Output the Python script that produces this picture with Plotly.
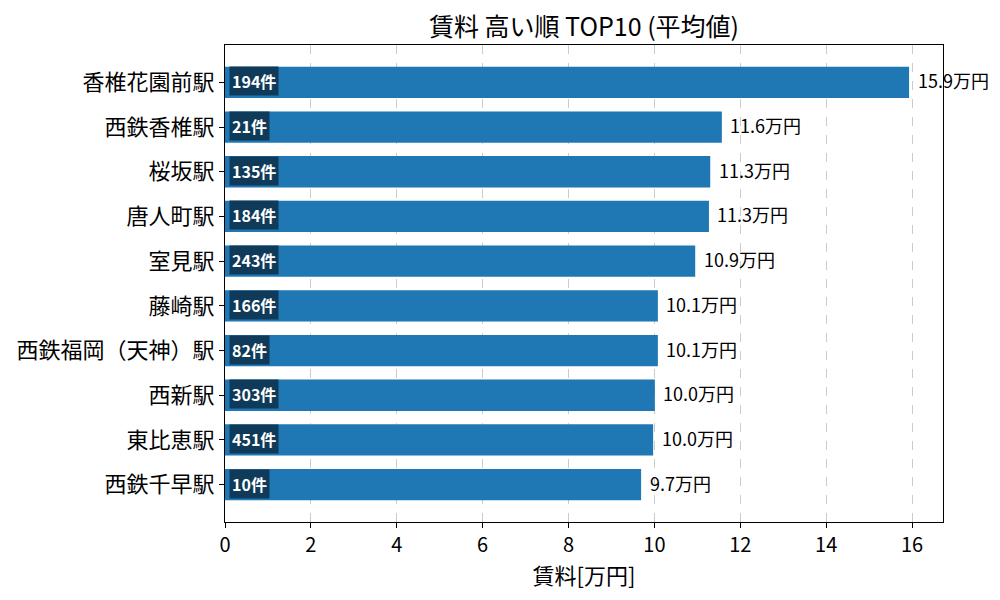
import plotly.graph_objects as go

# data
stations = ['香椎花園前駅', '西鉄香椎駅', '桜坂駅', '唐人町駅', '室見駅',
            '藤崎駅', '西鉄福岡（天神）駅', '西新駅', '東比恵駅', '西鉄千早駅']
rent = [15.93, 11.57, 11.30, 11.27, 10.95, 10.08, 10.08, 10.01, 9.97, 9.69]
counts = [194, 21, 135, 184, 243, 166, 82, 303, 451, 10]
x_ticks = [0, 2, 4, 6, 8, 10, 12, 14, 16]

FONT = 'Noto Sans CJK JP'
BAR = '#1f77b4'

fig = go.Figure()
fig.add_trace(go.Bar(
    x=rent, y=stations, orientation='h',
    width=0.7, marker=dict(color=BAR, line=dict(width=0)),
    showlegend=False, hoverinfo='x+y'
))

# value labels to the right of each bar
for s, v in zip(stations, rent):
    fig.add_annotation(x=v + 0.15, y=s, text=f'{v:.1f}万円', showarrow=False,
                       xanchor='left', yanchor='middle', yshift=2,
                       font=dict(family=FONT, size=18, color='black'))

# count badges inside each bar
for s, c in zip(stations, counts):
    fig.add_annotation(x=0.09, y=s, text=f'<b>{c}件</b>', showarrow=False,
                       xanchor='left', yanchor='middle', yshift=1,
                       bgcolor='#0f3a5a', borderpad=2,
                       font=dict(family=FONT, size=16, color='white'))

fig.update_layout(
    width=1000, height=600,
    margin=dict(l=217, r=65, t=37, b=86),
    plot_bgcolor='white', paper_bgcolor='white',
    font=dict(family=FONT, color='black'),
    title=dict(text='賃料 高い順 TOP10 (平均値)', x=0.576, xanchor='center',
               y=0.968, yanchor='middle', font=dict(size=25, family=FONT)),
    bargap=0.3,
)
fig.update_xaxes(
    range=[0, 16.72], tickvals=x_ticks, ticktext=[str(t) for t in x_ticks],
    tickfont=dict(size=20), ticks='outside', ticklen=5, tickcolor='black',
    showline=True, linecolor='black', linewidth=1, mirror=True,
    showgrid=True, gridcolor='#cccccc', griddash='dash', gridwidth=1,
    zeroline=False, automargin=False,
    title=dict(text='賃料[万円]', font=dict(size=22), standoff=6),
)
fig.update_yaxes(
    autorange=False, range=[9.835, -0.835], categoryorder='array', categoryarray=stations,
    tickfont=dict(size=22), ticks='outside', ticklen=5, tickcolor='black',
    showline=True, linecolor='black', linewidth=1, mirror=True,
    showgrid=False, zeroline=False, automargin=False,
)

fig.write_html('out.html')
